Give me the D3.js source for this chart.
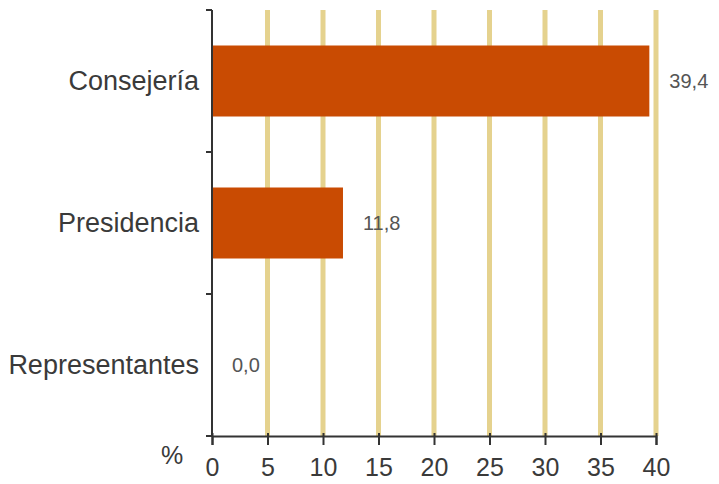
<!DOCTYPE html>
<html>
<head>
<meta charset="utf-8">
<script src="https://cdn.jsdelivr.net/npm/d3@7"></script>
<style>
  body { margin: 0; background: #fff; }
  svg { display: block; font-family: "Liberation Sans", Arial, sans-serif; }
</style>
</head>
<body>
<svg id="chart" width="719" height="484"></svg>
<script>
// datos
const categories = ["Consejería", "Presidencia", "Representantes"];
const values = [39.4, 11.8, 0.0];
const xTicks = [0, 5, 10, 15, 20, 25, 30, 35, 40];

const margin = { top: 10, left: 212, right: 63, bottom: 48 };
const W = 719, H = 484;
const svg = d3.select("#chart");

const x = d3.scaleLinear().domain([0, 40]).range([margin.left, W - margin.right]);
const y = d3.scaleBand().domain(categories)
    .range([margin.top, H - margin.bottom]).paddingInner(0.5).paddingOuter(0.25);

// lineas de rejilla
svg.append("g").selectAll("line")
    .data(xTicks.filter(d => d > 0))
    .join("line")
    .attr("x1", d => x(d)).attr("x2", d => x(d))
    .attr("y1", margin.top).attr("y2", H - margin.bottom)
    .attr("stroke", "#e5d28e").attr("stroke-width", 5);

// barras
svg.append("g").selectAll("rect")
    .data(values)
    .join("rect")
    .attr("x", x(0))
    .attr("y", (d, i) => y(categories[i]))
    .attr("width", d => x(d) - x(0))
    .attr("height", y.bandwidth())
    .attr("fill", "#c94b02");

// etiquetas de valor
const fmt = d => d.toFixed(1).replace(".", ",");
svg.append("g").selectAll("text")
    .data(values)
    .join("text")
    .attr("x", d => x(d) + 20)
    .attr("y", (d, i) => y(categories[i]) + y.bandwidth() / 2)
    .attr("dy", "0.35em")
    .attr("font-size", 20)
    .attr("fill", "#555")
    .text(fmt);

// eje y
const yAxisG = svg.append("g").attr("transform", `translate(${x(0)},0)`);
yAxisG.append("line")
    .attr("x1", 0).attr("x2", 0)
    .attr("y1", margin.top).attr("y2", H - margin.bottom)
    .attr("stroke", "#333").attr("stroke-width", 2);
const bounds = d3.range(categories.length + 1)
    .map(i => margin.top + i * (H - margin.bottom - margin.top) / categories.length);
yAxisG.selectAll("line.tk")
    .data(bounds)
    .join("line").attr("class", "tk")
    .attr("x1", -6).attr("x2", 0)
    .attr("y1", d => d).attr("y2", d => d)
    .attr("stroke", "#333").attr("stroke-width", 2);
yAxisG.selectAll("text")
    .data(categories)
    .join("text")
    .attr("x", -13)
    .attr("y", d => y(d) + y.bandwidth() / 2)
    .attr("dy", "0.35em")
    .attr("text-anchor", "end")
    .attr("font-size", 27)
    .attr("fill", "#3a3a3a")
    .text(d => d);

// eje x
const xAxis = d3.axisBottom(x).tickValues(xTicks).tickSize(9).tickPadding(13).tickFormat(d3.format("d"));
const xAxisG = svg.append("g")
    .attr("transform", `translate(0,${H - margin.bottom})`)
    .call(xAxis);
xAxisG.select(".domain").attr("stroke", "#333").attr("stroke-width", 2);
xAxisG.selectAll(".tick line").attr("y1", -3).attr("stroke", "#333").attr("stroke-width", 2);
xAxisG.selectAll(".tick text").attr("font-size", 25).attr("fill", "#3a3a3a")
    .attr("font-family", "Liberation Sans, Arial, sans-serif");

svg.append("text")
    .attr("x", 172).attr("y", H - margin.bottom + 28)
    .attr("text-anchor", "middle")
    .attr("font-size", 25)
    .attr("fill", "#3a3a3a")
    .text("%");
</script>
</body>
</html>
